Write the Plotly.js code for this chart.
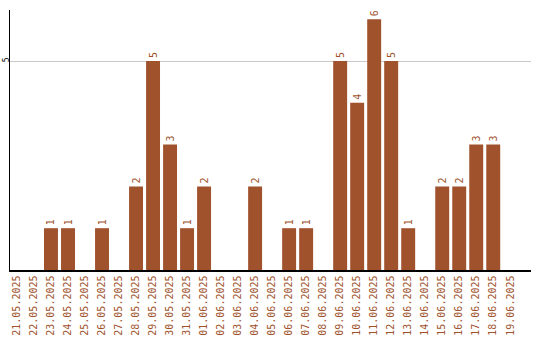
<!DOCTYPE html>
<html><head><meta charset="utf-8">
<script src="https://cdn.plot.ly/plotly-3.0.1.min.js"></script>
<style>body{margin:0;background:#fff}#c{width:540px;height:340px}</style>
</head><body><div id="c"></div>
<script>
const dates = ["21.05.2025","22.05.2025","23.05.2025","24.05.2025","25.05.2025","26.05.2025","27.05.2025","28.05.2025","29.05.2025","30.05.2025","31.05.2025","01.06.2025","02.06.2025","03.06.2025","04.06.2025","05.06.2025","06.06.2025","07.06.2025","08.06.2025","09.06.2025","10.06.2025","11.06.2025","12.06.2025","13.06.2025","14.06.2025","15.06.2025","16.06.2025","17.06.2025","18.06.2025","19.06.2025"];
const counts = [0,0,1,1,0,1,0,2,5,3,1,2,0,0,2,0,1,1,0,5,4,6,5,1,0,2,2,3,3,0];
const labels = counts.map(v => v > 0 ? String(v) : "");
const brown = "#a0522d";
const font = "DejaVu Sans Mono, monospace";
Plotly.newPlot("c", [{
  type: "bar", x: dates, y: counts, text: labels,
  textposition: "outside", textangle: -90, cliponaxis: false,
  textfont: {family: font, size: 10, color: brown},
  marker: {color: brown}, width: 0.82, hoverinfo: "none"
}], {
  width: 540, height: 340,
  margin: {l: 10, r: 9, t: 10, b: 70},
  paper_bgcolor: "#fff", plot_bgcolor: "#fff",
  showlegend: false,
  xaxis: {type: "category", range: [-0.41, 30.22], showline: true, linecolor: "#000", linewidth: 1.5,
    showgrid: false, ticks: "", tickangle: -90, tickfont: {family: font, size: 10, color: brown}, automargin: false},
  yaxis: {range: [0, 6.22], tickvals: [5], ticktext: ["5"], showline: true, linecolor: "#000", linewidth: 1.5,
    showgrid: true, gridcolor: "#c8c8c8", zeroline: false, ticks: "", tickangle: -90, ticklabelstandoff: -4,
    tickfont: {family: font, size: 8, color: "#000"}, automargin: false}
}, {staticPlot: true});
</script></body></html>
